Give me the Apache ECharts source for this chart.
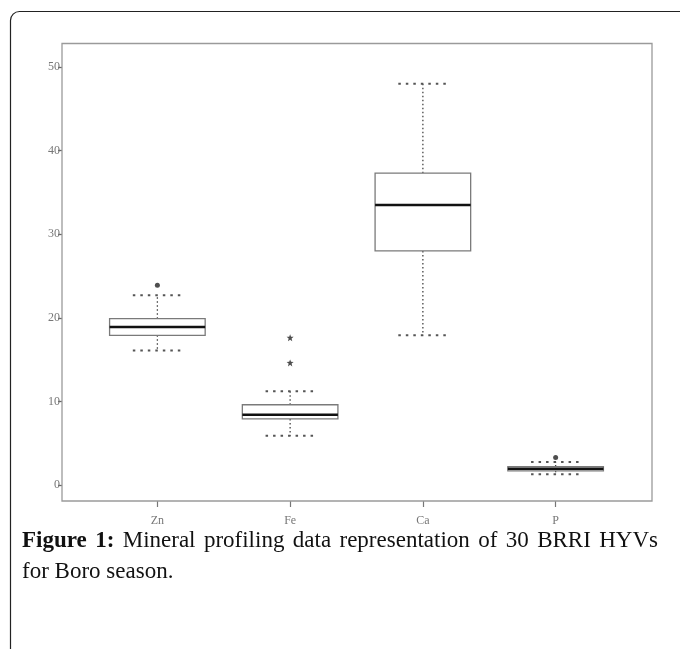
<!DOCTYPE html>
<html>
<head>
<meta charset="utf-8">
<script src="https://cdn.jsdelivr.net/npm/echarts@6/dist/echarts.min.js"></script>
<style>
html,body{margin:0;padding:0;background:#fff;}
#c{width:680px;height:649px;}
</style>
</head>
<body>
<div id="c"></div>
<script>
// ---- data ----
var categories = ['Zn', 'Fe', 'Ca', 'P'];
// [min, q1, median, q3, max]
var boxZn = [16.1, 17.9, 18.9, 19.9, 22.7];
var boxFe = [5.9, 7.9, 8.4, 9.6, 11.2];
var boxCa = [17.9, 28.0, 33.5, 37.3, 48.0];
var boxP  = [1.3, 1.7, 1.95, 2.2, 2.75];
var outliersCircle = [[0, 23.9], [3, 3.3]];
var outliersStar = [[1, 17.6], [1, 14.6]];
var yTicks = [0, 10, 20, 30, 40, 50];
var captionBold = 'Figure 1:';
var captionLine1 = 'Mineral profiling data representation of 30 BRRI HYVs';
var captionLine2 = 'for Boro season.';

var boxes = [boxZn, boxFe, boxCa, boxP];
var boxData = boxes.map(function (b, i) { return [i].concat(b); });

var chart = echarts.init(document.getElementById('c'), null, {renderer: 'canvas'});

// caption justification via text measurement
var cv = document.createElement('canvas');
var ctx = cv.getContext('2d');
var capFont = 'Liberation Serif';
var capSize = 23;
function measure(t, bold) {
  ctx.font = (bold ? 'bold ' : '') + capSize + 'px "' + capFont + '"';
  return ctx.measureText(t).width;
}
var words = captionBold.split(' ').map(function (w) { return {t: w, b: true}; })
  .concat(captionLine1.split(' ').map(function (w) { return {t: w, b: false}; }));
var lineLeft = 22, lineRight = 658;
var totalW = 0;
words.forEach(function (w) { w.w = measure(w.t, w.b); totalW += w.w; });
var gap = (lineRight - lineLeft - totalW) / (words.length - 1);
var graphics = [];
graphics.push({
  type: 'rect', shape: {x: 10.5, y: 11.5, width: 700, height: 700, r: 9},
  style: {fill: null, stroke: '#222', lineWidth: 1.2}, z: 0
});
graphics.push({
  type: 'rect', shape: {x: 62, y: 43.5, width: 590, height: 457.5},
  style: {fill: null, stroke: '#9a9a9a', lineWidth: 1.3}, z: 1
});
var cx = lineLeft;
words.forEach(function (w) {
  graphics.push({
    type: 'text', x: cx, y: 541,
    style: {text: w.t, fill: '#111', font: (w.b ? 'bold ' : '') + capSize + 'px "' + capFont + '"',
            textVerticalAlign: 'middle', verticalAlign: 'middle'}
  });
  cx += w.w + gap;
});
graphics.push({
  type: 'text', x: lineLeft, y: 572,
  style: {text: captionLine2, fill: '#111', font: capSize + 'px "' + capFont + '"',
          textVerticalAlign: 'middle', verticalAlign: 'middle'}
});

function renderBox(params, api) {
  var i = api.value(0);
  var band = api.size([1, 0])[0];
  var bw = band * 0.72, cw = band * 0.37;
  var pMin = api.coord([i, api.value(1)]);
  var pQ1 = api.coord([i, api.value(2)]);
  var pMed = api.coord([i, api.value(3)]);
  var pQ3 = api.coord([i, api.value(4)]);
  var pMax = api.coord([i, api.value(5)]);
  var x = pMed[0];
  var dotted = {stroke: '#444', lineWidth: 1.3, lineDash: [1.5, 2.5], fill: null};
  var dottedCap = {stroke: '#555', lineWidth: 2, lineDash: [2.5, 5], fill: null};
  return {
    type: 'group',
    children: [
      {type: 'line', shape: {x1: x, y1: pQ3[1], x2: x, y2: pMax[1]}, style: dotted},
      {type: 'line', shape: {x1: x, y1: pQ1[1], x2: x, y2: pMin[1]}, style: dotted},
      {type: 'line', shape: {x1: x - cw / 2, y1: pMax[1], x2: x + cw / 2, y2: pMax[1]}, style: dottedCap},
      {type: 'line', shape: {x1: x - cw / 2, y1: pMin[1], x2: x + cw / 2, y2: pMin[1]}, style: dottedCap},
      {type: 'rect', shape: {x: x - bw / 2, y: pQ3[1], width: bw, height: pQ1[1] - pQ3[1]},
       style: {fill: '#fff', stroke: '#7a7a7a', lineWidth: 1.3}},
      {type: 'line', shape: {x1: x - bw / 2, y1: pMed[1], x2: x + bw / 2, y2: pMed[1]},
       style: {stroke: '#111', lineWidth: 2.6}}
    ]
  };
}

var labelStyle = {color: '#777', fontFamily: 'Liberation Serif', fontSize: 12};

chart.setOption({
  animation: false,
  backgroundColor: '#fff',
  graphic: graphics,
  grid: [
    {left: 91, right: 58, top: 67, bottom: 164, containLabel: false},
    {left: 91, right: 58, top: 43.5, bottom: 148, containLabel: false}
  ],
  xAxis: [
    {type: 'category', data: categories, boundaryGap: true, gridIndex: 0,
     axisLine: {show: false}, axisTick: {show: false}, axisLabel: {show: false}, splitLine: {show: false}},
    {type: 'category', data: categories, boundaryGap: true, gridIndex: 1,
     axisLine: {show: false},
     axisTick: {show: true, alignWithLabel: true, length: 6, lineStyle: {color: '#777', width: 1.2}},
     axisLabel: Object.assign({margin: 14}, labelStyle),
     splitLine: {show: false}}
  ],
  yAxis: [
    {type: 'value', min: 0, max: 50, interval: 10, offset: 29, gridIndex: 0,
     axisLine: {show: false},
     axisTick: {show: true, length: 4, lineStyle: {color: '#666', width: 1.3}},
     axisLabel: Object.assign({margin: 2}, labelStyle, {
       formatter: function (v) { return yTicks.indexOf(v) >= 0 ? String(v) : ''; }
     }),
     splitLine: {show: false}},
    {type: 'value', gridIndex: 1, show: false, min: 0, max: 1}
  ],
  series: [
    {type: 'custom', renderItem: renderBox, data: boxData, encode: {x: 0, y: [1, 2, 3, 4, 5]}, z: 3},
    {type: 'scatter', data: outliersCircle, symbol: 'circle', symbolSize: 5,
     itemStyle: {color: '#222'}, z: 4},
    {type: 'scatter', data: outliersStar,
     symbol: 'path://M0,-5 L1.3,-1.7 5,-1.6 2.1,0.7 3.1,4.6 0,2.4 -3.1,4.6 -2.1,0.7 -5,-1.6 -1.3,-1.7Z',
     symbolSize: 7, itemStyle: {color: '#222'}, z: 4}
  ]
});
</script>
</body>
</html>
